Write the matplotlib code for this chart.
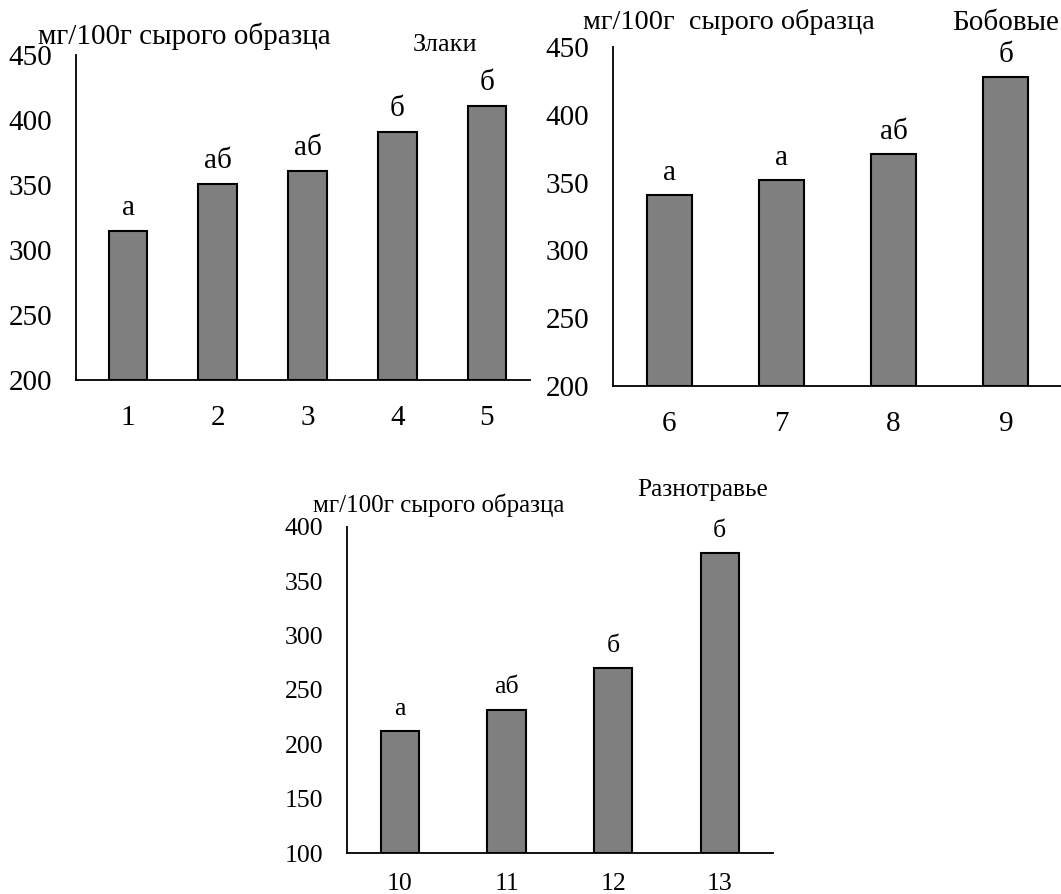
import matplotlib
matplotlib.use("Agg")
import matplotlib.pyplot as plt

plt.rcParams['font.family'] = ['Liberation Serif', 'DejaVu Serif']

# --- data ---
cereal_ids = [1, 2, 3, 4, 5]
cereal_vals = [315, 351, 361, 391, 411]
cereal_marks = ['а', 'аб', 'аб', 'б', 'б']

legume_ids = [6, 7, 8, 9]
legume_vals = [341, 352, 371, 428]
legume_marks = ['а', 'а', 'аб', 'б']

forb_ids = [10, 11, 12, 13]
forb_vals = [212, 232, 270, 376]
forb_marks = ['а', 'аб', 'б', 'б']

unit_label = 'мг/100г сырого образца'

W, H = 1061, 894


def px_box(left, right, bottom, top):
    # pixel edges -> figure fraction rect
    return [left / W, 1 - bottom / H, (right - left) / W, (bottom - top) / H]


def bar_panel(ax, ids, vals, marks, ylim, yticks, xlim, width, fs, xpad=18):
    ax.bar(ids, [v - ylim[0] for v in vals], bottom=ylim[0], width=width,
           color='#7f7f7f', edgecolor='black', linewidth=1.5)
    for x, v, m in zip(ids, vals, marks):
        ax.annotate(m, (x, v), xytext=(0, 16), textcoords='offset points',
                    ha='center', va='center', fontsize=fs)
    ax.set_ylim(*ylim)
    ax.set_xlim(*xlim)
    ax.set_yticks(yticks)
    ax.set_xticks(ids)
    ax.set_xticklabels([str(i) for i in ids])
    for s in ['top', 'right']:
        ax.spines[s].set_visible(False)
    for s in ['left', 'bottom']:
        ax.spines[s].set_linewidth(1.3)
    ax.tick_params(axis='y', length=0, pad=17, labelsize=fs)
    ax.tick_params(axis='x', length=0, pad=xpad, labelsize=fs)
    ax.patch.set_visible(False)


fig = plt.figure(figsize=(W / 100, H / 100), dpi=100)

ax1 = fig.add_axes(px_box(76, 530, 380, 55))
bar_panel(ax1, cereal_ids, cereal_vals, cereal_marks, (200, 450),
          range(200, 451, 50), (0.42, 5.48), 0.43, 21)

ax2 = fig.add_axes(px_box(613, 1062, 385.7, 47.2))
bar_panel(ax2, legume_ids, legume_vals, legume_marks, (200, 450),
          range(200, 451, 50), (5.5, 9.5), 0.4, 21)

ax3 = fig.add_axes(px_box(346.7, 773, 853.3, 526.7))
bar_panel(ax3, forb_ids, forb_vals, forb_marks, (100, 400),
          range(100, 401, 50), (9.5, 13.5), 0.36, 18.5, xpad=14)


def ftext(x, y, s, fs, **kw):
    fig.text(x / W, 1 - y / H, s, fontsize=fs, va='center', **kw)


ftext(38, 36, unit_label, 21)
ftext(413, 45, 'Злаки', 19)
ftext(583, 22, 'мг/100г  сырого образца', 20.3)
ftext(952, 23, 'Бобовые', 21)
ftext(313, 505, unit_label, 18)
ftext(637, 490, 'Разнотравье', 18.2)

fig.savefig('out.png', dpi=100)
